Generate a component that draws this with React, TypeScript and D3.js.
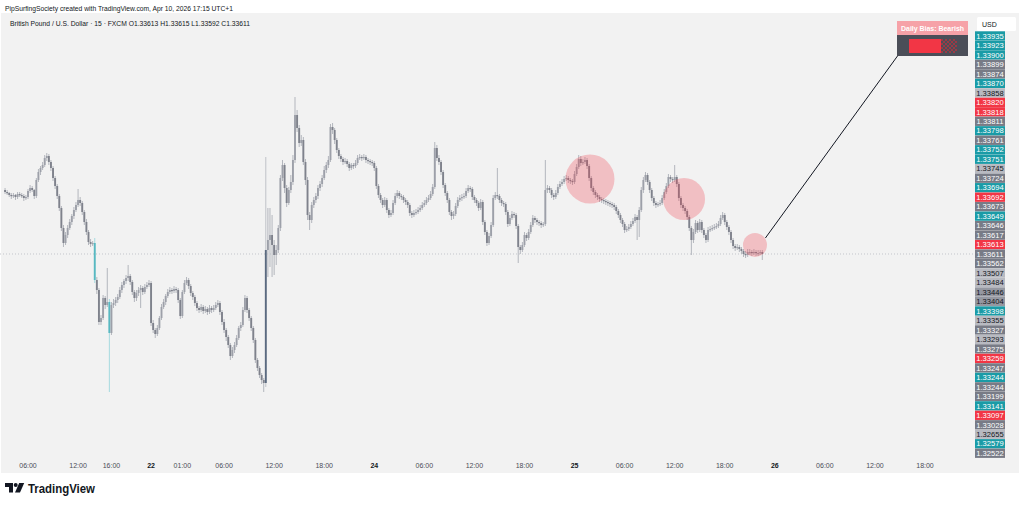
import React from "react";
import * as d3 from "d3";

const width = 1024;
const height = 507;

// GBPUSD 15m
const firstOpen = 1.33675;
const closes = [
  1.33673, 1.33672, 1.33670, 1.33669, 1.33670, 1.33668, 1.33671, 1.33670, 1.33669, 1.33667,
  1.33668, 1.33674, 1.33677, 1.33675, 1.33669, 1.33685, 1.33693, 1.33697, 1.33700, 1.33707,
  1.33709, 1.33703, 1.33697, 1.33687, 1.33679, 1.33669, 1.33657, 1.33637, 1.33622, 1.33630,
  1.33637, 1.33643, 1.33649, 1.33655, 1.33660, 1.33665, 1.33662, 1.33653, 1.33643, 1.33633,
  1.33623, 1.33621, 1.33622, 1.33585, 1.33575, 1.33543, 1.33547, 1.33567, 1.33560, 1.33563,
  1.33532, 1.33560, 1.33562, 1.33565, 1.33568, 1.33575, 1.33580, 1.33584, 1.33587, 1.33589,
  1.33583, 1.33573, 1.33567, 1.33572, 1.33575, 1.33577, 1.33573, 1.33578, 1.33580, 1.33582,
  1.33542, 1.33535, 1.33531, 1.33537, 1.33547, 1.33558, 1.33563, 1.33569, 1.33573, 1.33575,
  1.33574, 1.33576, 1.33575, 1.33565, 1.33549, 1.33573, 1.33582, 1.33585, 1.33579, 1.33572,
  1.33568, 1.33562, 1.33557, 1.33555, 1.33558, 1.33554, 1.33556, 1.33553, 1.33557, 1.33555,
  1.33557, 1.33560, 1.33562, 1.33553, 1.33543, 1.33535, 1.33528, 1.33520, 1.33509, 1.33515,
  1.33520, 1.33527, 1.33537, 1.33540, 1.33555, 1.33567, 1.33555, 1.33547, 1.33537, 1.33525,
  1.33505, 1.33497, 1.33490, 1.33485, 1.33482, 1.33615, 1.33625, 1.33630, 1.33620, 1.33610,
  1.33615, 1.33637, 1.33687, 1.33700, 1.33677, 1.33662, 1.33675, 1.33683, 1.33705, 1.33750,
  1.33737, 1.33722, 1.33725, 1.33703, 1.33685, 1.33650, 1.33645, 1.33660, 1.33665, 1.33669,
  1.33677, 1.33681, 1.33687, 1.33695, 1.33700, 1.33705, 1.33738, 1.33735, 1.33725, 1.33715,
  1.33709, 1.33706, 1.33703, 1.33704, 1.33701, 1.33697, 1.33700, 1.33699, 1.33702, 1.33707,
  1.33708, 1.33707, 1.33708, 1.33705, 1.33704, 1.33703, 1.33702, 1.33697, 1.33679, 1.33670,
  1.33665, 1.33660, 1.33665, 1.33655, 1.33650, 1.33652, 1.33662, 1.33669, 1.33672, 1.33669,
  1.33668, 1.33665, 1.33663, 1.33660, 1.33652, 1.33650, 1.33652, 1.33653, 1.33655, 1.33657,
  1.33660, 1.33662, 1.33665, 1.33667, 1.33671, 1.33678, 1.33717, 1.33707, 1.33703, 1.33693,
  1.33680, 1.33672, 1.33665, 1.33653, 1.33649, 1.33651, 1.33659, 1.33665, 1.33667, 1.33668,
  1.33669, 1.33674, 1.33677, 1.33676, 1.33668, 1.33665, 1.33662, 1.33657, 1.33663, 1.33643,
  1.33633, 1.33622, 1.33629, 1.33640, 1.33667, 1.33670, 1.33669, 1.33665, 1.33662, 1.33661,
  1.33653, 1.33641, 1.33647, 1.33651, 1.33650, 1.33639, 1.33618, 1.33615, 1.33620, 1.33630,
  1.33627, 1.33633, 1.33640, 1.33647, 1.33645, 1.33643, 1.33642, 1.33640, 1.33641, 1.33675,
  1.33677, 1.33675, 1.33670, 1.33668, 1.33672, 1.33678, 1.33681, 1.33683, 1.33686, 1.33687,
  1.33685, 1.33684, 1.33683, 1.33691, 1.33698, 1.33706, 1.33702, 1.33703, 1.33705, 1.33699,
  1.33687, 1.33677, 1.33673, 1.33670, 1.33668, 1.33666, 1.33665, 1.33664, 1.33663, 1.33662,
  1.33661, 1.33660, 1.33658, 1.33654, 1.33650, 1.33645, 1.33641, 1.33635, 1.33636, 1.33638,
  1.33641, 1.33644, 1.33648, 1.33645, 1.33655, 1.33675, 1.33685, 1.33690, 1.33683, 1.33675,
  1.33667, 1.33662, 1.33660, 1.33661, 1.33662, 1.33667, 1.33673, 1.33679, 1.33688, 1.33686,
  1.33685, 1.33688, 1.33681, 1.33667, 1.33660, 1.33657, 1.33654, 1.33648, 1.33637, 1.33625,
  1.33633, 1.33642, 1.33635, 1.33643, 1.33635, 1.33630, 1.33625, 1.33635, 1.33636, 1.33637,
  1.33638, 1.33639, 1.33641, 1.33647, 1.33650, 1.33643, 1.33638, 1.33633, 1.33625, 1.33619,
  1.33617, 1.33618, 1.33616, 1.33614, 1.33611, 1.33610, 1.33613, 1.33613, 1.33612, 1.33613,
  1.33612, 1.33612, 1.33613, 1.33611,
];
const highs = [
  1.33677, 1.33675, 1.33673, 1.33672, 1.33672, 1.33671, 1.33673, 1.33673, 1.33672, 1.33671,
  1.33670, 1.33676, 1.33680, 1.33679, 1.33676, 1.33687, 1.33696, 1.33699, 1.33703, 1.33710,
  1.33712, 1.33711, 1.33705, 1.33699, 1.33689, 1.33681, 1.33671, 1.33659, 1.33640, 1.33633,
  1.33640, 1.33646, 1.33651, 1.33658, 1.33663, 1.33676, 1.33668, 1.33664, 1.33655, 1.33646,
  1.33635, 1.33626, 1.33624, 1.33627, 1.33588, 1.33577, 1.33550, 1.33570, 1.33569, 1.33597,
  1.33566, 1.33563, 1.33566, 1.33568, 1.33571, 1.33578, 1.33583, 1.33586, 1.33590, 1.33600,
  1.33591, 1.33585, 1.33575, 1.33575, 1.33578, 1.33580, 1.33579, 1.33581, 1.33583, 1.33585,
  1.33584, 1.33545, 1.33537, 1.33540, 1.33549, 1.33561, 1.33566, 1.33571, 1.33576, 1.33578,
  1.33577, 1.33579, 1.33578, 1.33577, 1.33567, 1.33575, 1.33585, 1.33588, 1.33587, 1.33581,
  1.33574, 1.33570, 1.33564, 1.33559, 1.33561, 1.33560, 1.33559, 1.33558, 1.33560, 1.33559,
  1.33560, 1.33563, 1.33565, 1.33564, 1.33555, 1.33546, 1.33537, 1.33530, 1.33522, 1.33518,
  1.33523, 1.33530, 1.33539, 1.33543, 1.33558, 1.33570, 1.33569, 1.33557, 1.33549, 1.33539,
  1.33527, 1.33507, 1.33499, 1.33492, 1.33487, 1.33708, 1.33657, 1.33657, 1.33650, 1.33625,
  1.33620, 1.33640, 1.33690, 1.33705, 1.33702, 1.33680, 1.33678, 1.33690, 1.33710, 1.33768,
  1.33755, 1.33740, 1.33730, 1.33728, 1.33706, 1.33688, 1.33653, 1.33663, 1.33668, 1.33672,
  1.33680, 1.33684, 1.33690, 1.33699, 1.33703, 1.33709, 1.33741, 1.33742, 1.33737, 1.33727,
  1.33717, 1.33711, 1.33708, 1.33707, 1.33706, 1.33703, 1.33702, 1.33702, 1.33705, 1.33710,
  1.33711, 1.33710, 1.33711, 1.33710, 1.33707, 1.33706, 1.33705, 1.33704, 1.33699, 1.33681,
  1.33672, 1.33667, 1.33668, 1.33667, 1.33657, 1.33655, 1.33665, 1.33672, 1.33675, 1.33674,
  1.33671, 1.33670, 1.33667, 1.33665, 1.33662, 1.33654, 1.33655, 1.33656, 1.33658, 1.33660,
  1.33663, 1.33665, 1.33668, 1.33670, 1.33674, 1.33681, 1.33723, 1.33720, 1.33710, 1.33705,
  1.33695, 1.33682, 1.33674, 1.33667, 1.33655, 1.33654, 1.33662, 1.33668, 1.33670, 1.33671,
  1.33672, 1.33677, 1.33680, 1.33679, 1.33678, 1.33670, 1.33667, 1.33664, 1.33666, 1.33665,
  1.33645, 1.33635, 1.33632, 1.33643, 1.33670, 1.33673, 1.33697, 1.33671, 1.33667, 1.33664,
  1.33663, 1.33655, 1.33650, 1.33654, 1.33653, 1.33652, 1.33641, 1.33620, 1.33623, 1.33633,
  1.33632, 1.33636, 1.33643, 1.33650, 1.33649, 1.33647, 1.33645, 1.33644, 1.33643, 1.33705,
  1.33680, 1.33679, 1.33677, 1.33672, 1.33675, 1.33681, 1.33684, 1.33686, 1.33689, 1.33690,
  1.33689, 1.33687, 1.33686, 1.33694, 1.33701, 1.33710, 1.33709, 1.33706, 1.33708, 1.33707,
  1.33701, 1.33689, 1.33679, 1.33675, 1.33672, 1.33670, 1.33668, 1.33667, 1.33666, 1.33665,
  1.33664, 1.33663, 1.33662, 1.33660, 1.33656, 1.33652, 1.33647, 1.33643, 1.33639, 1.33641,
  1.33644, 1.33647, 1.33651, 1.33650, 1.33658, 1.33678, 1.33688, 1.33693, 1.33692, 1.33685,
  1.33677, 1.33669, 1.33664, 1.33663, 1.33665, 1.33670, 1.33676, 1.33682, 1.33691, 1.33690,
  1.33688, 1.33700, 1.33690, 1.33683, 1.33669, 1.33662, 1.33659, 1.33656, 1.33650, 1.33639,
  1.33636, 1.33645, 1.33644, 1.33646, 1.33645, 1.33637, 1.33632, 1.33638, 1.33639, 1.33640,
  1.33641, 1.33642, 1.33644, 1.33650, 1.33653, 1.33652, 1.33645, 1.33640, 1.33635, 1.33627,
  1.33621, 1.33621, 1.33620, 1.33618, 1.33616, 1.33614, 1.33616, 1.33616, 1.33615, 1.33616,
  1.33615, 1.33615, 1.33615, 1.33615,
];
const lows = [
  1.33671, 1.33670, 1.33668, 1.33666, 1.33667, 1.33665, 1.33666, 1.33668, 1.33667, 1.33664,
  1.33665, 1.33666, 1.33672, 1.33673, 1.33666, 1.33667, 1.33683, 1.33690, 1.33695, 1.33698,
  1.33704, 1.33700, 1.33694, 1.33684, 1.33676, 1.33666, 1.33654, 1.33634, 1.33618, 1.33620,
  1.33627, 1.33635, 1.33640, 1.33646, 1.33653, 1.33658, 1.33659, 1.33650, 1.33640, 1.33630,
  1.33620, 1.33618, 1.33619, 1.33582, 1.33571, 1.33540, 1.33540, 1.33545, 1.33556, 1.33558,
  1.33473, 1.33530, 1.33557, 1.33559, 1.33562, 1.33566, 1.33572, 1.33577, 1.33581, 1.33584,
  1.33580, 1.33570, 1.33563, 1.33564, 1.33569, 1.33557, 1.33570, 1.33571, 1.33576, 1.33578,
  1.33539, 1.33532, 1.33527, 1.33529, 1.33535, 1.33545, 1.33556, 1.33560, 1.33567, 1.33571,
  1.33571, 1.33572, 1.33572, 1.33562, 1.33546, 1.33547, 1.33571, 1.33580, 1.33576, 1.33569,
  1.33565, 1.33559, 1.33554, 1.33552, 1.33553, 1.33551, 1.33552, 1.33550, 1.33551, 1.33552,
  1.33553, 1.33555, 1.33558, 1.33550, 1.33540, 1.33532, 1.33524, 1.33517, 1.33505, 1.33507,
  1.33512, 1.33518, 1.33525, 1.33534, 1.33538, 1.33553, 1.33552, 1.33544, 1.33534, 1.33522,
  1.33502, 1.33494, 1.33487, 1.33481, 1.33473, 1.33478, 1.33588, 1.33598, 1.33588, 1.33590,
  1.33600, 1.33612, 1.33634, 1.33684, 1.33672, 1.33658, 1.33660, 1.33672, 1.33680, 1.33702,
  1.33733, 1.33718, 1.33719, 1.33700, 1.33680, 1.33645, 1.33635, 1.33642, 1.33657, 1.33662,
  1.33666, 1.33674, 1.33678, 1.33685, 1.33692, 1.33697, 1.33703, 1.33731, 1.33721, 1.33712,
  1.33706, 1.33703, 1.33700, 1.33701, 1.33698, 1.33694, 1.33695, 1.33696, 1.33697, 1.33700,
  1.33705, 1.33704, 1.33705, 1.33702, 1.33701, 1.33700, 1.33699, 1.33694, 1.33676, 1.33667,
  1.33662, 1.33657, 1.33658, 1.33652, 1.33647, 1.33648, 1.33650, 1.33660, 1.33667, 1.33666,
  1.33665, 1.33662, 1.33660, 1.33657, 1.33649, 1.33647, 1.33648, 1.33650, 1.33651, 1.33653,
  1.33655, 1.33658, 1.33660, 1.33663, 1.33665, 1.33669, 1.33676, 1.33704, 1.33700, 1.33690,
  1.33677, 1.33669, 1.33662, 1.33650, 1.33645, 1.33646, 1.33649, 1.33657, 1.33663, 1.33664,
  1.33666, 1.33667, 1.33672, 1.33673, 1.33665, 1.33662, 1.33659, 1.33654, 1.33655, 1.33640,
  1.33630, 1.33619, 1.33620, 1.33627, 1.33638, 1.33665, 1.33666, 1.33662, 1.33659, 1.33658,
  1.33650, 1.33638, 1.33639, 1.33645, 1.33647, 1.33636, 1.33602, 1.33611, 1.33613, 1.33618,
  1.33624, 1.33625, 1.33631, 1.33638, 1.33642, 1.33640, 1.33639, 1.33637, 1.33638, 1.33639,
  1.33672, 1.33672, 1.33667, 1.33665, 1.33666, 1.33670, 1.33676, 1.33679, 1.33681, 1.33684,
  1.33682, 1.33681, 1.33680, 1.33681, 1.33689, 1.33696, 1.33699, 1.33700, 1.33701, 1.33696,
  1.33684, 1.33674, 1.33670, 1.33667, 1.33665, 1.33663, 1.33662, 1.33661, 1.33660, 1.33659,
  1.33658, 1.33657, 1.33655, 1.33651, 1.33647, 1.33642, 1.33638, 1.33632, 1.33633, 1.33634,
  1.33636, 1.33639, 1.33642, 1.33625, 1.33628, 1.33653, 1.33672, 1.33683, 1.33680, 1.33672,
  1.33664, 1.33659, 1.33657, 1.33658, 1.33659, 1.33660, 1.33665, 1.33671, 1.33677, 1.33683,
  1.33682, 1.33683, 1.33678, 1.33664, 1.33657, 1.33654, 1.33651, 1.33645, 1.33634, 1.33610,
  1.33622, 1.33631, 1.33632, 1.33633, 1.33632, 1.33627, 1.33622, 1.33623, 1.33633, 1.33634,
  1.33635, 1.33636, 1.33637, 1.33639, 1.33645, 1.33640, 1.33635, 1.33630, 1.33622, 1.33616,
  1.33614, 1.33615, 1.33613, 1.33611, 1.33608, 1.33607, 1.33608, 1.33610, 1.33609, 1.33610,
  1.33609, 1.33609, 1.33610, 1.33605,
];

// bars painted by the indicator
const tealBars = [43, 50];
const impulseBars = [125];

const tickIdx = [11, 35, 51, 70, 85, 105, 129, 153, 177, 201, 225, 249, 273, 297, 321, 345, 369, 393, 417, 441];
const tickText = ["06:00", "12:00", "16:00", "22", "01:00", "06:00", "12:00", "18:00", "24", "06:00", "12:00", "18:00", "25", "06:00", "12:00", "18:00", "26", "06:00", "12:00", "18:00"];

const axisPrices = [
  "1.33935", "1.33923", "1.33900", "1.33899", "1.33874", "1.33870", "1.33858", "1.33820", "1.33818", "1.33811",
  "1.33798", "1.33761", "1.33752", "1.33751", "1.33745", "1.33724", "1.33694", "1.33692", "1.33673", "1.33649",
  "1.33646", "1.33617", "1.33613", "1.33611", "1.33562", "1.33507", "1.33484", "1.33446", "1.33404", "1.33398",
  "1.33355", "1.33327", "1.33293", "1.33275", "1.33259", "1.33247", "1.33244", "1.33244", "1.33199", "1.33141",
  "1.33097", "1.33028", "1.32655", "1.32579", "1.32522",
];
const axisKinds = [
  "teal", "teal", "teal", "grey", "grey", "teal", "light", "red", "red", "grey",
  "teal", "grey", "teal", "teal", "light", "grey", "teal", "red", "grey", "teal",
  "grey", "grey", "red", "grey", "grey", "light", "light", "mid", "mid", "teal",
  "light", "grey", "light", "grey", "red", "grey", "teal", "grey", "grey", "teal",
  "red", "grey", "light", "teal", "grey",
];

const lastPrice = 1.33611;

// highlighted supply zones (bar index, price)
const zoneIdx = [280.4, 325.5, 359.5];
const zonePrice = [1.33686, 1.33666, 1.33620];
const zoneR = [24.5, 21, 12];

const labelColors = {
  teal: { bg: "#1a9ba6", fg: "#ffffff" },
  red: { bg: "#f23645", fg: "#ffffff" },
  grey: { bg: "#787b86", fg: "#ffffff" },
  mid: { bg: "#9598a1", fg: "#131722" },
  light: { bg: "#b8bac1", fg: "#131722" },
};

const font = "'Liberation Sans', Arial, sans-serif";

export default function App() {
  const x = d3.scaleLinear().domain([11, 441]).range([28, 925]);
  const y = d3.scaleLinear().domain([1.33, 1.34]).range([865, -135]);
  const band = d3.scaleBand<number>().domain(d3.range(axisPrices.length)).range([31.3, 457.9]).paddingInner(0.02);

  const candles = closes.map((c, i) => {
    const o = i === 0 ? firstOpen : closes[i - 1];
    let body = c >= o ? "#9da0a9" : "#7f828c";
    let wick = "#b3b6bd";
    if (tealBars.includes(i)) { body = "#58b8c1"; wick = "#a6dadf"; }
    if (impulseBars.includes(i)) { body = "#5b6a80"; wick = "#bfc2c8"; }
    const top = y(Math.max(o, c));
    const bot = y(Math.min(o, c));
    return { i, cx: x(i), top, h: Math.max(1.2, bot - top), hi: y(highs[i]), lo: y(lows[i]), body, wick };
  });

  const anchorX = x(364.5);
  const anchorY = y(1.33627);

  return (
    <div style={{ position: "absolute", left: 0, top: 0 }}>
      <svg width={width} height={height} style={{ display: "block", fontFamily: font }}>
        <rect x={0} y={0} width={width} height={height} fill="#ffffff" />
        <rect x={1} y={13} width={1018} height={460} fill="#f2f2f2" />

        <text x={5} y={10.5} fontSize={7.5} fill="#131722" textLength={228} lengthAdjust="spacingAndGlyphs">
          PipSurfingSociety created with TradingView.com, Apr 10, 2026 17:15 UTC+1
        </text>
        <text x={10} y={25.5} fontSize={7.5} fill="#131722" textLength={240} lengthAdjust="spacingAndGlyphs">
          British Pound / U.S. Dollar · 15 · FXCM  O1.33613 H1.33615 L1.33592 C1.33611
        </text>

        <line x1={0} x2={974} y1={y(lastPrice)} y2={y(lastPrice)} stroke="#c3c5cb" strokeDasharray="1 2" />

        {candles.map(d => (
          <g key={d.i}>
            <line x1={d.cx} x2={d.cx} y1={d.hi} y2={d.lo} stroke={d.wick} strokeWidth={1} />
            <rect x={d.cx - 0.95} y={d.top} width={1.9} height={d.h} fill={d.body} />
          </g>
        ))}

        {zoneIdx.map((zi, k) => (
          <circle key={k} cx={x(zi)} cy={y(zonePrice[k])} r={zoneR[k]} fill="#f23645" fillOpacity={0.27} />
        ))}

        <line x1={anchorX} y1={anchorY} x2={897.5} y2={56} stroke="#131722" strokeWidth={1} />

        <rect x={897} y={21} width={71} height={14} fill="#f6a2a8" />
        <text x={932.5} y={31} fontSize={8} fontWeight="bold" fill="#ffffff" textAnchor="middle" textLength={63} lengthAdjust="spacingAndGlyphs">
          Daily Bias: Bearish
        </text>
        <rect x={897} y={35} width={71} height={21} fill="#4b4e58" />
        <rect x={909} y={39} width={32} height={14} fill="#f23645" />
        {d3.range(7).map(r =>
          d3.range(8).map(c => ((r + c) % 2 === 0 ? (
            <rect key={`${r}-${c}`} x={941 + c * 2} y={39 + r * 2} width={2} height={2} fill="#9a3a45" />
          ) : null))
        )}

        {axisPrices.map((p, k) => {
          const col = labelColors[axisKinds[k]];
          const by = band(k) as number;
          return (
            <g key={k}>
              <rect x={975} y={by} width={30} height={band.bandwidth()} fill={col.bg} />
              <text x={990} y={by + band.bandwidth() / 2 + 2.7} fontSize={7.6} fill={col.fg} textAnchor="middle">
                {p}
              </text>
            </g>
          );
        })}

        <rect x={977} y={17} width={39} height={14} rx={1.5} fill="#ffffff" />
        <text x={982} y={27} fontSize={7} fill="#131722">USD</text>

        {tickIdx.map((t, k) => {
          const day = !tickText[k].includes(":");
          return (
            <text key={k} x={x(t)} y={467.5} fontSize={7} textAnchor="middle"
              fill={day ? "#131722" : "#4a4d57"} fontWeight={day ? "bold" : "normal"}>
              {tickText[k]}
            </text>
          );
        })}

        <g fill="#131722">
          <path d="M5 483 h8 v9.5 h-4 v-5.5 h-4 z" />
          <circle cx={15.7} cy={485} r={2} />
          <path d="M19.2 483 h5 l-4.2 9.5 h-5 z" />
        </g>
        <text x={28} y={492.5} fontSize={12.5} fontWeight="bold" fill="#131722" textLength={67} lengthAdjust="spacingAndGlyphs">
          TradingView
        </text>
      </svg>
    </div>
  );
}
